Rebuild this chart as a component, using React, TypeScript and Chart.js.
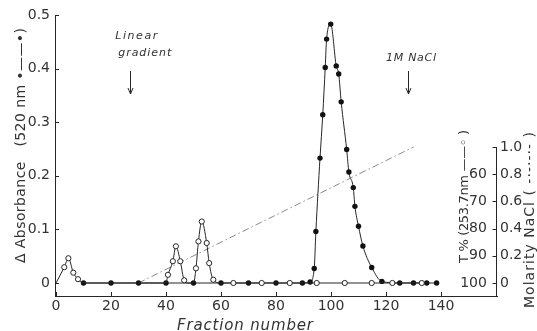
import React, { useEffect, useRef } from "react";
import { Chart, registerables } from "chart.js";
Chart.register(...registerables);

// ---- tick labels ----
const xTicks = [0, 20, 40, 60, 80, 100, 120, 140];
const absTicks = [0, 0.1, 0.2, 0.3, 0.4, 0.5];
const molTicks = [0, 0.2, 0.4, 0.6, 0.8, 1.0];
const tTicks = [60, 70, 80, 90, 100];

// ---- Δ absorbance at 520 nm (filled circles) ----
const absFractions = [10, 20, 30, 40, 50, 60, 70, 80, 89.6, 92.4, 93.9, 94.5, 96.0, 97.0, 97.9, 98.4, 99.9, 101.9, 102.8, 103.7, 105.7, 106.5, 108.1, 108.7, 110, 111.6, 114.8, 118.5, 125, 130, 134.8, 138.4];
const absValues = [0, 0, 0, 0, 0, 0, 0, 0, 0, 0.002, 0.027, 0.096, 0.233, 0.314, 0.402, 0.455, 0.483, 0.405, 0.39, 0.338, 0.249, 0.207, 0.178, 0.143, 0.106, 0.069, 0.029, 0.003, 0, 0, 0, 0];

// ---- T% at 253.7 nm (open circles) ----
const tFractions = [0, 3, 4.5, 6.3, 8, 10, 40, 40.7, 42.5, 43.6, 45.2, 46.6, 48, 50, 50.9, 51.8, 53, 54.8, 55.7, 57.2, 60, 64.5, 74.8, 85, 94.8, 105, 114.8, 122.3, 133];
const tValues = [100, 94.2, 90.9, 96.2, 98.6, 100, 100, 97, 92, 86.5, 92, 99, 100, 100, 94.6, 84.7, 77.4, 85.3, 92.7, 98.8, 100, 100, 100, 100, 100, 100, 100, 100, 100];
const tMarked = [0, 1, 1, 1, 1, 0, 0, 1, 1, 1, 1, 1, 0, 0, 1, 1, 1, 1, 1, 1, 0, 1, 1, 1, 1, 1, 1, 1, 1];

// ---- NaCl molarity (dash-dot) ----
const naclFractions = [30, 130];
const naclMolarity = [0, 1.0];

// ---- annotations ----
const arrowFractions = [27, 128];

const INK = "#262626";
const TXT = "#333333";

function drawFitted(ctx: CanvasRenderingContext2D, text: string, cx: number, cy: number, rot: number, font: string, width: number, baseline: CanvasTextBaseline = "middle") {
  ctx.save();
  ctx.translate(cx, cy);
  ctx.rotate(rot);
  ctx.font = font;
  (ctx as any).letterSpacing = "0px";
  const w0 = ctx.measureText(text).width;
  const n = Array.from(text).length;
  let ls = n > 1 ? (width - w0) / (n - 1) : 0;
  if (ls < -1.5) ls = -1.5;
  (ctx as any).letterSpacing = ls + "px";
  ctx.fillStyle = TXT;
  ctx.textAlign = "left";
  ctx.textBaseline = baseline;
  ctx.fillText(text, -(w0 + ls * (n - 1)) / 2, 0);
  ctx.restore();
}

const decor = {
  id: "decor",
  afterDraw(chart: any) {
    const ctx: CanvasRenderingContext2D = chart.ctx;
    const ca = chart.chartArea;
    const sx = chart.scales.x;
    const sy = chart.scales.y;
    const sm = chart.scales.yM;
    ctx.save();
    ctx.strokeStyle = INK;
    ctx.lineWidth = 1;
    ctx.beginPath();
    absTicks.forEach((v) => {
      const y = Math.round(sy.getPixelForValue(v)) + 0.5;
      ctx.moveTo(ca.left, y);
      ctx.lineTo(ca.left + 4, y);
    });
    xTicks.forEach((v) => {
      const x = Math.round(sx.getPixelForValue(v)) + 0.5;
      ctx.moveTo(x, ca.bottom);
      ctx.lineTo(x, ca.bottom - 4);
    });
    const rx = Math.round(ca.right) - 0.5;
    ctx.moveTo(rx, sm.getPixelForValue(molTicks[molTicks.length - 1]));
    ctx.lineTo(rx, ca.bottom);
    molTicks.forEach((v) => {
      const y = Math.round(sm.getPixelForValue(v)) + 0.5;
      ctx.moveTo(rx - 4, y);
      ctx.lineTo(rx, y);
    });
    arrowFractions.forEach((f) => {
      const x = Math.round(sx.getPixelForValue(f)) + 0.5;
      ctx.moveTo(x, 71);
      ctx.lineTo(x, 94);
      ctx.moveTo(x - 2.5, 88);
      ctx.lineTo(x, 94);
      ctx.lineTo(x + 2.5, 88);
    });
    ctx.stroke();
    ctx.restore();

    drawFitted(ctx, "Δ Absorbance   (520 nm •——•)", 21, 145.5, -Math.PI / 2, "14px 'DejaVu Sans'", 235);
    drawFitted(ctx, "T % (253.7nm ——◦ )", 465, 196.5, -Math.PI / 2, "13px 'DejaVu Sans'", 133);
    drawFitted(ctx, "Molarity NaCl ( -·-·-·- )", 530, 220, -Math.PI / 2, "14px 'DejaVu Sans'", 176);
    drawFitted(ctx, "Fraction number", 245, 330, 0, "italic 15px 'DejaVu Sans'", 136, "alphabetic");
    const ax0 = sx.getPixelForValue(arrowFractions[0]);
    const ax1 = sx.getPixelForValue(arrowFractions[1]);
    drawFitted(ctx, "Linear", ax0 + 6, 39, 0, "italic 11px 'DejaVu Sans'", 42, "alphabetic");
    drawFitted(ctx, "gradient", ax0 + 14.5, 56, 0, "italic 11px 'DejaVu Sans'", 53, "alphabetic");
    drawFitted(ctx, "1M NaCl", ax1 + 3, 61, 0, "italic 11px 'DejaVu Sans'", 50, "alphabetic");
  },
};

export default function App() {
  const ref = useRef<HTMLCanvasElement | null>(null);
  useEffect(() => {
    if (!ref.current) return;
    const tickFont = { family: "'DejaVu Sans'", size: 14 };
    const fmt = (v: number) => (v === 0 ? "0" : Number(v).toFixed(1));
    const chart = new Chart(ref.current, {
      type: "line",
      data: {
        datasets: [
          {
            label: "T%",
            data: tFractions.map((f, i) => ({ x: f, y: tValues[i] })),
            xAxisID: "x",
            yAxisID: "yT",
            borderColor: INK,
            borderWidth: 1,
            cubicInterpolationMode: "monotone",
            pointRadius: tMarked.map((m) => (m ? 2.6 : 0)),
            pointBackgroundColor: "#ffffff",
            pointBorderColor: INK,
            pointBorderWidth: 1,
          },
          {
            label: "A520",
            data: absFractions.map((f, i) => ({ x: f, y: absValues[i] })),
            xAxisID: "x",
            yAxisID: "y",
            borderColor: INK,
            borderWidth: 1,
            cubicInterpolationMode: "monotone",
            pointRadius: 2.7,
            pointBackgroundColor: "#111111",
            pointBorderColor: "#111111",
            pointBorderWidth: 0,
          },
          {
            label: "NaCl",
            data: naclFractions.map((f, i) => ({ x: f, y: naclMolarity[i] })),
            xAxisID: "x",
            yAxisID: "yM",
            borderColor: "#8a8a8a",
            borderWidth: 1,
            borderDash: [7, 3, 1.5, 3],
            pointRadius: 0,
          },
        ],
      },
      options: {
        responsive: false,
        animation: false,
        layout: { padding: { top: 15, left: 0, right: 0, bottom: 0 } },
        plugins: { legend: { display: false }, tooltip: { enabled: false } },
        scales: {
          x: {
            type: "linear",
            min: -0.364,
            max: 160.36,
            afterBuildTicks: (s: any) => { s.ticks = xTicks.map((v) => ({ value: v })); },
            afterFit: (s: any) => { s.height = 35; },
            grid: { display: false, drawTicks: false },
            border: { display: true, color: INK, width: 1 },
            ticks: { font: tickFont, color: TXT, padding: 2, maxRotation: 0, autoSkip: false, callback: (v: any) => String(v) },
          },
          y: {
            type: "linear",
            position: "left",
            min: -0.02425,
            max: 0.5,
            afterBuildTicks: (s: any) => { s.ticks = absTicks.map((v) => ({ value: v })); },
            afterFit: (s: any) => { s.width = 55; },
            grid: { display: false, drawTicks: false },
            border: { display: true, color: INK, width: 1 },
            ticks: { font: tickFont, color: TXT, padding: 5, autoSkip: false, callback: (v: any) => fmt(v) },
          },
          yM: {
            type: "linear",
            axis: "y",
            position: "right",
            min: -0.0956,
            max: 1.9706,
            afterBuildTicks: (s: any) => { s.ticks = molTicks.map((v) => ({ value: v })); },
            afterFit: (s: any) => { s.width = 40; },
            grid: { display: false, drawTicks: false },
            border: { display: false },
            ticks: { font: tickFont, color: TXT, padding: 3, autoSkip: false, callback: (v: any) => fmt(v) },
          },
          yT: {
            type: "linear",
            axis: "y",
            position: { x: 156.7 },
            reverse: true,
            min: 1.47,
            max: 104.78,
            afterBuildTicks: (s: any) => { s.ticks = tTicks.map((v) => ({ value: v })); },
            grid: { display: false, drawTicks: false },
            border: { display: false },
            ticks: { font: tickFont, color: TXT, padding: 0, autoSkip: false, callback: (v: any) => String(v) },
          },
        },
      } as any,
      plugins: [decor],
    });
    return () => chart.destroy();
  }, []);
  return (
    <div style={{ position: "absolute", left: 0, top: 0, width: 537, height: 331, background: "#fff" }}>
      <canvas ref={ref} width={537} height={331} />
    </div>
  );
}
